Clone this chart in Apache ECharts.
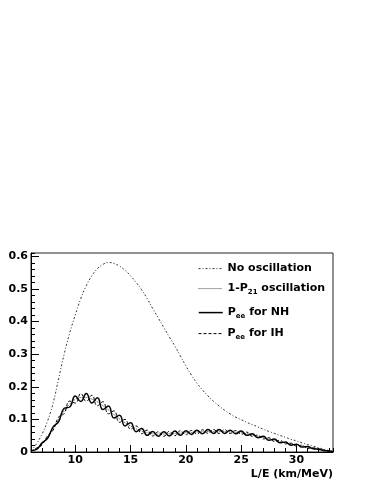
<!DOCTYPE html>
<html>
<head>
<meta charset="utf-8">
<script src="https://cdn.jsdelivr.net/npm/echarts@6/dist/echarts.min.js"></script>
<style>
html,body{margin:0;padding:0;background:#fff;}
#main{width:374px;height:484px;}
</style>
</head>
<body>
<div id="main"></div>
<script>
// L/E (km/MeV) points
var leX = [6,6.5,7,7.5,8,8.5,9,9.5,10,10.5,11,11.5,12,12.5,13,13.5,14,14.5,15,15.5,16,16.5,17,17.5,18,18.5,19,19.5,
	20,20.5,21,21.5,22,22.5,23,23.5,24,24.5,25,25.5,26,26.5,27,27.5,28,28.5,29,29.5,30,30.5,31,31.5,32,32.5,33,33.3];
// no oscillation
var noOsc = [.003,.025,.055,.095,.150,.225,.300,.365,.420,.470,.510,.540,.562,.575,.581,.578,.570,.557,.540,.520,.497,.470,.440,.411,.382,.353,.325,.295,
	.264,.236,.211,.190,.172,.155,.141,.128,.117,.107,.099,.091,.084,.077,.070,.063,.057,.051,.045,.039,.034,.028,.023,.018,.013,.008,.004,.001];
// 1-P21 oscillation
var oneMinusP21 = [.003,.010,.025,.046,.072,.100,.126,.147,.161,.167,.167,.162,.154,.142,.129,.115,.102,.090,.080,.071,.064,.059,.056,.055,.055,.056,.057,.058,
	.059,.060,.061,.062,.063,.063,.063,.063,.062,.061,.059,.056,.052,.048,.044,.040,.036,.032,.028,.024,.021,.018,.014,.011,.008,.005,.002,.001];
// Pee NH
var peeNH = [.004,.008,.028,.042,.077,.093,.134,.138,.172,.155,.179,.150,.166,.130,.141,.104,.113,.080,.090,.062,.072,.051,.063,.048,.062,.049,.064,.051,
	.065,.054,.067,.056,.069,.057,.069,.057,.067,.056,.064,.051,.056,.044,.048,.036,.040,.028,.031,.021,.024,.015,.017,.010,.009,.004,.003,.001];
// Pee IH
var peeIH = [.002,.012,.022,.050,.067,.107,.118,.156,.150,.179,.155,.174,.142,.154,.117,.126,.091,.100,.070,.080,.056,.067,.049,.062,.048,.063,.050,.065,
	.053,.066,.055,.068,.057,.069,.057,.069,.057,.066,.054,.061,.048,.052,.040,.044,.032,.036,.025,.027,.018,.021,.011,.013,.007,.006,.001,.001];

var xMajor = [10, 15, 20, 25, 30];
var yMajor = [0, 0.1, 0.2, 0.3, 0.4, 0.5, 0.6];
var names = ['No oscillation', '1-P21 oscillation', 'Pee for NH', 'Pee for IH'];
var legendRich = {
	'No oscillation': '{n|No oscillation}',
	'1-P21 oscillation': '{n|1-P}{s|21}{n| oscillation}',
	'Pee for NH': '{n|P}{s|ee}{n| for NH}',
	'Pee for IH': '{n|P}{s|ee}{n| for IH}'
};

var FONT = 'DejaVu Sans';
var myChart = echarts.init(document.getElementById('main'), null, {renderer: 'canvas'});

function pts(arr) {
	return leX.map(function (x, i) { return [x, arr[i]]; });
}

//图例: 每行单独放
var legendTops = [263, 283, 307, 328];
var legendWidths = [1, 1, 1.5, 1];
var legends = names.map(function (n, i) {
	return {
		data: [n],
		left: 198,
		top: legendTops[i],
		orient: 'vertical',
		padding: 0,
		itemWidth: 24,
		itemHeight: 14,
		itemGap: 5,
		selectedMode: false,
		itemStyle: {opacity: 0},
		lineStyle: {width: legendWidths[i]},
		formatter: function (name) { return legendRich[name]; },
		textStyle: {
			color: '#000',
			rich: {
				n: {fontFamily: FONT, fontWeight: 'bold', fontSize: 11, lineHeight: 14, color: '#000'},
				s: {fontFamily: FONT, fontWeight: 'bold', fontSize: 7, lineHeight: 8, verticalAlign: 'bottom', color: '#000'}
			}
		}
	};
});

var labelStyle = {fontFamily: FONT, fontWeight: 'bold', fontSize: 11, color: '#000'};

var option = {
	animation: false,
	backgroundColor: '#fff',
	color: ['#000', '#000', '#000', '#000'],
	grid: {
		left: 31, top: 253, right: 41, bottom: 32,
		show: true, borderColor: '#222', borderWidth: 1,
		outerBoundsMode: 'none'
	},
	legend: legends,
	xAxis: [{
		type: 'value', min: 6, max: 33.3, interval: 1, position: 'bottom',
		axisLine: {onZero: false, lineStyle: {color: '#000', width: 1}},
		axisTick: {inside: true, length: 4, lineStyle: {color: '#000'}},
		axisLabel: {show: false},
		splitLine: {show: false},
		name: 'L/E (km/MeV)',
		nameLocation: 'end',
		nameGap: 0,
		nameMoveOverlap: false,
		nameTextStyle: {fontFamily: FONT, fontWeight: 'bold', fontSize: 11, color: '#000',
			align: 'right', verticalAlign: 'top', padding: [17, 0, 0, 0]}
	}, {
		type: 'value', min: 6, max: 33.3, position: 'bottom',
		axisLine: {show: false, onZero: false},
		axisTick: {inside: true, length: 7, customValues: xMajor, lineStyle: {color: '#000'}},
		axisLabel: Object.assign({customValues: xMajor, margin: 3}, labelStyle),
		splitLine: {show: false}
	}],
	yAxis: [{
		type: 'value', min: 0, max: 0.61, interval: 0.02, position: 'left',
		axisLine: {show: true, onZero: false, lineStyle: {color: '#000', width: 1}},
		axisTick: {show: true, inside: true, length: 4, lineStyle: {color: '#000'}},
		axisLabel: {show: false},
		splitLine: {show: false}
	}, {
		type: 'value', min: 0, max: 0.61, position: 'left',
		axisLine: {show: false, onZero: false},
		axisTick: {show: true, inside: true, length: 8, customValues: yMajor, lineStyle: {color: '#000'}},
		axisLabel: Object.assign({customValues: yMajor, margin: 3}, labelStyle),
		splitLine: {show: false}
	}],
	series: [{
		name: names[0], type: 'line', data: pts(noOsc), symbol: 'none', smooth: 0.4,
		itemStyle: {color: '#000'},
		lineStyle: {color: '#333', width: 1, type: [2, 2, 1, 2]}
	}, {
		name: names[1], type: 'line', data: pts(oneMinusP21), symbol: 'none', smooth: 0.4,
		itemStyle: {color: '#000'},
		lineStyle: {color: '#444', width: 1, type: [1, 1]}
	}, {
		name: names[2], type: 'line', data: pts(peeNH), symbol: 'none', smooth: 0.5,
		itemStyle: {color: '#000'},
		lineStyle: {color: '#000', width: 1.5, type: 'solid'}
	}, {
		name: names[3], type: 'line', data: pts(peeIH), symbol: 'none', smooth: 0.5,
		itemStyle: {color: '#000'},
		lineStyle: {color: '#000', width: 1, type: [3, 2]}
	}]
};
myChart.setOption(option);
</script>
</body>
</html>
